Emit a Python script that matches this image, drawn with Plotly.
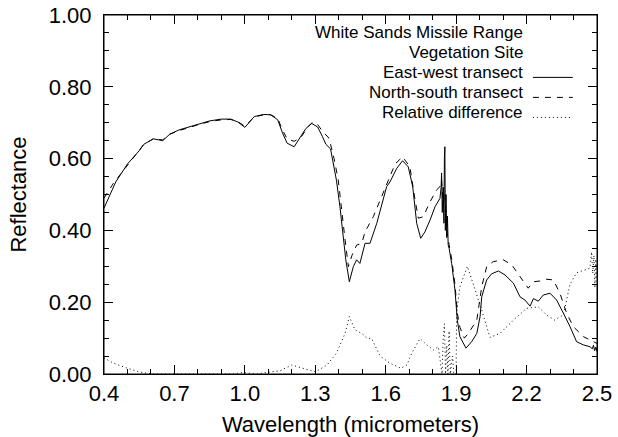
import plotly.graph_objects as go

# East-west transect (solid)
ew_wl = [0.40, 0.45, 0.50, 0.55, 0.57, 0.61, 0.65, 0.68, 0.72, 0.80, 0.85, 0.90, 0.94, 0.97, 1.00,
         1.04, 1.08, 1.11, 1.14, 1.16, 1.18, 1.21, 1.23, 1.26, 1.285, 1.31, 1.33, 1.345, 1.365, 1.38,
         1.39, 1.405, 1.42, 1.43, 1.445, 1.462, 1.476, 1.49, 1.512, 1.533, 1.562, 1.58, 1.604, 1.618,
         1.647, 1.672, 1.696, 1.715, 1.732, 1.749, 1.767, 1.789, 1.81, 1.831, 1.836, 1.838, 1.841,
         1.845, 1.848, 1.850, 1.852, 1.854, 1.857, 1.860, 1.863, 1.866, 1.870, 1.881, 1.895, 1.905,
         1.916, 1.942, 1.966, 1.988, 2.002, 2.009, 2.03, 2.051, 2.08, 2.108, 2.144, 2.172, 2.193,
         2.215, 2.229, 2.25, 2.271, 2.30, 2.328, 2.357, 2.385, 2.413, 2.442, 2.47, 2.48, 2.485, 2.49,
         2.495, 2.50]
ew_refl = [0.462, 0.535, 0.585, 0.622, 0.640, 0.655, 0.650, 0.668, 0.680, 0.696, 0.705, 0.710, 0.710,
           0.702, 0.687, 0.717, 0.723, 0.722, 0.708, 0.672, 0.643, 0.633, 0.655, 0.684, 0.698, 0.688,
           0.662, 0.640, 0.627, 0.575, 0.540, 0.466, 0.380, 0.318, 0.257, 0.299, 0.318, 0.308, 0.364,
           0.364, 0.420, 0.465, 0.522, 0.535, 0.573, 0.594, 0.577, 0.522, 0.420, 0.378, 0.396, 0.429,
           0.466, 0.489, 0.52, 0.56, 0.45, 0.52, 0.42, 0.60, 0.633, 0.40, 0.50, 0.38, 0.44, 0.36, 0.35,
           0.308, 0.234, 0.150, 0.104, 0.072, 0.090, 0.113, 0.160, 0.215, 0.262, 0.279, 0.287, 0.276,
           0.253, 0.215, 0.206, 0.189, 0.210, 0.203, 0.220, 0.225, 0.206, 0.169, 0.132, 0.090, 0.081,
           0.076, 0.070, 0.080, 0.065, 0.075, 0.062]

# North-south transect (dashed)
ns_wl = [0.40, 0.44, 0.49, 0.53, 0.57, 0.61, 0.65, 0.68, 0.72, 0.80, 0.85, 0.90, 0.94, 0.97, 1.00,
         1.04, 1.08, 1.11, 1.14, 1.16, 1.18, 1.21, 1.24, 1.27, 1.29, 1.31, 1.335, 1.355, 1.365, 1.38,
         1.398, 1.427, 1.441, 1.456, 1.476, 1.498, 1.512, 1.547, 1.583, 1.611, 1.64, 1.672, 1.703,
         1.725, 1.739, 1.76, 1.789, 1.817, 1.831, 1.838, 1.845, 1.852, 1.86, 1.87, 1.881, 1.895,
         1.905, 1.916, 1.935, 1.952, 1.973, 1.988, 2.009, 2.03, 2.058, 2.101, 2.137, 2.172, 2.207,
         2.229, 2.257, 2.286, 2.314, 2.342, 2.371, 2.399, 2.442, 2.47, 2.50]
ns_refl = [0.490, 0.531, 0.573, 0.605, 0.640, 0.655, 0.652, 0.668, 0.678, 0.694, 0.703, 0.708, 0.709,
           0.703, 0.690, 0.716, 0.722, 0.722, 0.712, 0.680, 0.655, 0.648, 0.660, 0.690, 0.702, 0.695,
           0.672, 0.660, 0.640, 0.600, 0.540, 0.373, 0.299, 0.330, 0.359, 0.364, 0.396, 0.438, 0.494,
           0.540, 0.585, 0.605, 0.577, 0.485, 0.434, 0.438, 0.480, 0.513, 0.522, 0.54, 0.47, 0.50,
           0.40, 0.36, 0.32, 0.25, 0.17, 0.13, 0.10, 0.113, 0.136, 0.150, 0.243, 0.299, 0.313, 0.318,
           0.304, 0.271, 0.239, 0.257, 0.259, 0.264, 0.262, 0.225, 0.169, 0.132, 0.104, 0.095, 0.085]

# Relative difference (dotted)
rd_wl = [0.40, 0.44, 0.50, 0.55, 0.60, 0.95, 0.99, 1.05, 1.09, 1.15, 1.20, 1.25, 1.30, 1.35, 1.39,
         1.427, 1.445, 1.469, 1.498, 1.52, 1.54, 1.576, 1.618, 1.665, 1.69, 1.711, 1.746, 1.775,
         1.803, 1.824, 1.835, 1.84, 1.845, 1.85, 1.855, 1.86, 1.865, 1.87, 1.875, 1.885, 1.89, 1.90,
         1.902, 1.916, 1.948, 1.973, 1.994, 2.009, 2.044, 2.087, 2.144, 2.20, 2.25, 2.286, 2.32,
         2.357, 2.385, 2.413, 2.449, 2.47, 2.477, 2.482, 2.487, 2.491, 2.495, 2.50]
rd_val = [0.045, 0.030, 0.016, 0.006, 0.0, 0.0, 0.004, 0.0, 0.004, 0.009, 0.025, 0.016, 0.006, 0.025,
          0.058, 0.113, 0.160, 0.123, 0.113, 0.100, 0.099, 0.050, 0.030, 0.016, 0.025, 0.058, 0.099,
          0.081, 0.067, 0.076, 0.02, 0.0, 0.10, 0.14, 0.0, 0.08, 0.0, 0.12, 0.0, 0.05, 0.0, 0.0,
          0.169, 0.243, 0.300, 0.252, 0.206, 0.178, 0.102, 0.113, 0.150, 0.183, 0.187, 0.164, 0.150,
          0.165, 0.250, 0.282, 0.290, 0.295, 0.34, 0.28, 0.33, 0.24, 0.32, 0.25]

legend_header = ["White Sands Missile Range", "Vegetation Site"]
legend_labels = ["East-west transect", "North-south transect", "Relative difference"]
legend_dashes = ["solid", "6px,6px", "1px,3px"]

FONT = "Liberation Sans, Arial, Helvetica, sans-serif"

fig = go.Figure()
fig.add_trace(go.Scatter(x=ew_wl, y=ew_refl, mode="lines",
                         line=dict(color="black", width=1, dash="solid"), showlegend=False))
fig.add_trace(go.Scatter(x=ns_wl, y=ns_refl, mode="lines",
                         line=dict(color="black", width=1, dash="6px,6px"), showlegend=False))
fig.add_trace(go.Scatter(x=rd_wl, y=rd_val, mode="lines",
                         line=dict(color="black", width=1, dash="1px,3px"), showlegend=False))

# legend block (text right-aligned, line sample to the right)
row_y = [0.9526, 0.8969, 0.8412, 0.7855, 0.7298]
for i, t in enumerate(legend_header):
    fig.add_annotation(x=0.852, y=row_y[i], xref="paper", yref="paper", text=t,
                       showarrow=False, xanchor="right", yanchor="middle", borderpad=0,
                       font=dict(family=FONT, size=17, color="black"))
for j, t in enumerate(legend_labels):
    yy = row_y[j + 2]
    fig.add_annotation(x=0.852, y=yy, xref="paper", yref="paper", text=t,
                       showarrow=False, xanchor="right", yanchor="middle", borderpad=0,
                       font=dict(family=FONT, size=17, color="black"))
    fig.add_shape(type="line", xref="paper", yref="paper", x0=0.870, x1=0.951,
                  y0=yy - 0.015, y1=yy - 0.015,
                  line=dict(color="black", width=1, dash=legend_dashes[j]))

# plot frame
fig.add_shape(type="rect", xref="paper", yref="paper", x0=0, x1=1, y0=0, y1=1,
              line=dict(color="black", width=1), fillcolor="rgba(0,0,0,0)", layer="above")

axis_common = dict(showline=True, linecolor="black", linewidth=1, mirror="allticks",
                   ticks="inside", tickcolor="black", ticklen=9, tickwidth=1,
                   showgrid=False, zeroline=False, automargin=False,
                   ticklabeloverflow="allow",
                   tickfont=dict(family=FONT, size=22, color="black"))

fig.update_xaxes(range=[0.4, 2.5], tick0=0.4, dtick=0.3, tickformat=".1f",
                 ticklabelstandoff=0,
                 minor=dict(dtick=0.1, tick0=0.4, ticks="inside", ticklen=5, tickcolor="black"),
                 title=dict(text="Wavelength (micrometers)", font=dict(family=FONT, size=22, color="black"),
                            standoff=14),
                 **axis_common)
fig.update_yaxes(range=[0, 1.0], tick0=0, dtick=0.2, tickformat=".2f",
                 ticklabelstandoff=7,
                 minor=dict(dtick=0.05, tick0=0, ticks="inside", ticklen=5, tickcolor="black"),
                 title=dict(text="Reflectance", font=dict(family=FONT, size=22, color="black"),
                            standoff=16),
                 **axis_common)

fig.update_layout(width=618, height=437, margin=dict(l=104, r=21, t=15, b=63),
                  plot_bgcolor="white", paper_bgcolor="white", showlegend=False,
                  hovermode=False, font=dict(family=FONT, color="black"))

# remove the page's default 8px body margin so the figure sits at the window origin
fig.write_html("out.html", config={"displayModeBar": False},
               post_script="document.body.style.margin='0';document.body.style.overflow='hidden';")
